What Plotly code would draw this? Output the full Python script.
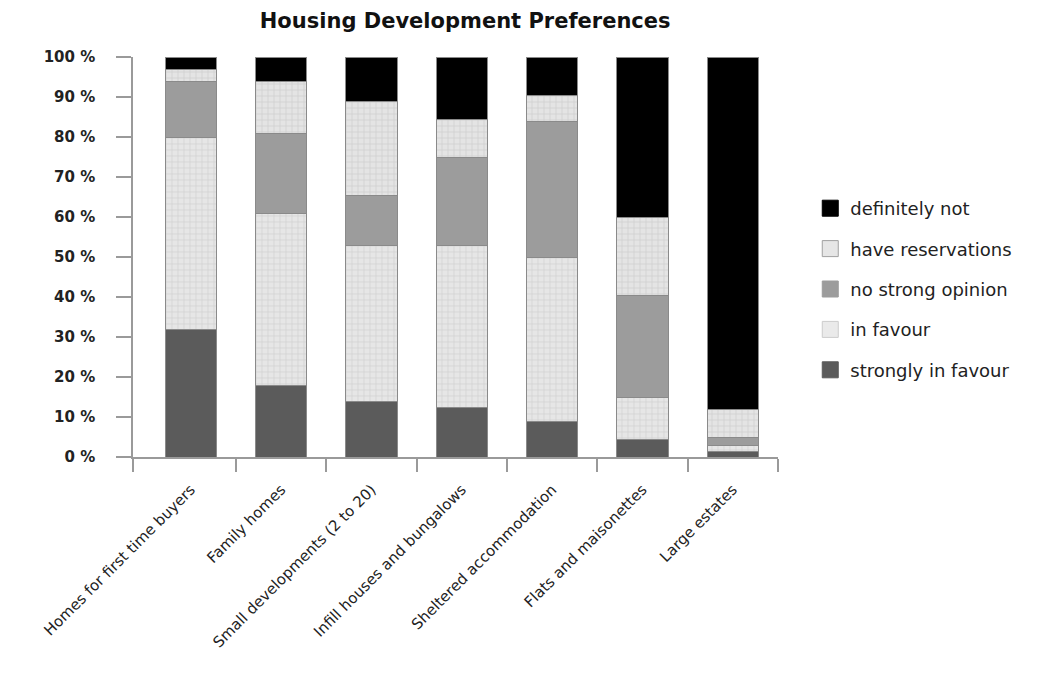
import plotly.graph_objects as go

categories = ["Homes for first time buyers", "Family homes", "Small developments (2 to 20)",
              "Infill houses and bungalows", "Sheltered accommodation",
              "Flats and maisonettes", "Large estates"]
strongly_in_favour = [32, 18, 14, 12.5, 9, 4.5, 1.5]
in_favour = [48, 43, 39, 40.5, 41, 10.5, 1.5]
no_strong_opinion = [14, 20, 12.5, 22, 34, 25.5, 2]
have_reservations = [3, 13, 23.5, 9.5, 6.5, 19.5, 7]
definitely_not = [3, 6, 11, 15.5, 9.5, 40, 88]
y_ticks = [0, 10, 20, 30, 40, 50, 60, 70, 80, 90, 100]
y_tick_labels = ["0 %", "10 %", "20 %", "30 %", "40 %", "50 %", "60 %", "70 %", "80 %", "90 %", "100 %"]

FONT = "DejaVu Sans"
AX = "#9a9a9a"

series = [
    ("strongly in favour", strongly_in_favour, dict(color="#5b5b5b")),
    ("in favour", in_favour, dict(color="#e2e2e2", pattern=dict(shape="+", fgcolor="#bfbfbf", bgcolor="#e6e6e6", size=6, solidity=0.25))),
    ("no strong opinion", no_strong_opinion, dict(color="#9c9c9c")),
    ("have reservations", have_reservations, dict(color="#e0e0e0", pattern=dict(shape="+", fgcolor="#bcbcbc", bgcolor="#e4e4e4", size=6, solidity=0.25))),
    ("definitely not", definitely_not, dict(color="#000000")),
]

fig = go.Figure()
for name, vals, mk in series:
    m = dict(mk)
    m["line"] = dict(color="#8a8a8a", width=1)
    fig.add_trace(go.Bar(x=categories, y=vals, name=name, marker=m, width=0.565,
                         showlegend=False))

legend_style = {
    "definitely not": dict(color="#000000", line=dict(color="#000000", width=1)),
    "have reservations": dict(color="#e6e6e6", line=dict(color="#a0a0a0", width=1)),
    "no strong opinion": dict(color="#9c9c9c", line=dict(color="#9c9c9c", width=1)),
    "in favour": dict(color="#eaeaea", line=dict(color="#cccccc", width=1)),
    "strongly in favour": dict(color="#5b5b5b", line=dict(color="#5b5b5b", width=1)),
}
for name in ["definitely not", "have reservations", "no strong opinion", "in favour", "strongly in favour"]:
    st = legend_style[name]
    fig.add_trace(go.Scatter(x=[None], y=[None], mode="markers", name=name, xaxis="x2",
                             legendgroup=name,
                             marker=dict(symbol="square", size=16, color=st["color"], line=st["line"])))

xr = [-0.64, 6.5]
fig.update_layout(
    width=1039, height=680,
    margin=dict(l=125, r=269, t=49, b=231),
    paper_bgcolor="white", plot_bgcolor="white",
    barmode="stack",
    title=dict(text="Housing Development Preferences", x=0.515, xref="paper", xanchor="center",
               y=0.982, yref="container", yanchor="middle",
               font=dict(family=FONT, size=21, weight="bold", color="#111")),
    xaxis=dict(type="category", range=xr, showgrid=False, ticks="", showline=False,
               tickangle=-45, ticklabelstandoff=20,
               tickfont=dict(family=FONT, size=15, color="#222")),
    xaxis2=dict(overlaying="x", range=xr, showgrid=False, showticklabels=False,
                tickvals=[-0.64, 0.5, 1.5, 2.5, 3.5, 4.5, 5.5, 6.5],
                ticks="outside", ticklen=13, tickcolor=AX, tickwidth=1.5,
                showline=True, linecolor=AX, linewidth=1.5, zeroline=False),
    yaxis=dict(range=[0, 100], tickvals=y_ticks, ticktext=y_tick_labels, showgrid=False, zeroline=False,
               ticks="outside", ticklen=15, tickcolor=AX, tickwidth=1.5,
               showline=True, linecolor=AX, linewidth=1.5, ticklabelstandoff=18,
               tickfont=dict(family=FONT, size=15, weight="bold", color="#222")),
    legend=dict(x=1.05, xanchor="left", y=0.42, yanchor="middle",
                traceorder="grouped", tracegroupgap=14,
                font=dict(family=FONT, size=18, color="#222"),
                bgcolor="rgba(0,0,0,0)"),
)

fig.write_html("out.html")
